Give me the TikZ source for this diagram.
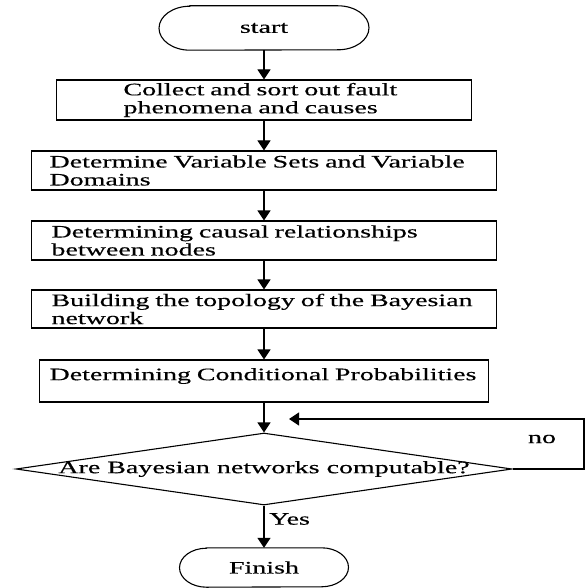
\documentclass[tikz,border=0pt]{standalone}
\usepackage{fontspec}
\setmainfont{Liberation Serif}[FakeStretch=1.6,FakeBold=0.4]
\usetikzlibrary{arrows.meta,shapes.geometric}
\newcommand\drawstadium[4]{%
  \draw[line width=1.1pt] ([xshift=-#2]#1.north) -- ([xshift=#2]#1.north)
    arc[start angle=90,end angle=-90,x radius=#3,y radius=#4]
    -- ([xshift=-#2]#1.south)
    arc[start angle=270,end angle=90,x radius=#3,y radius=#4] -- cycle;}
\newcommand\ind[1]{\hspace*{#1}}
\begin{document}
\begin{tikzpicture}[x=1pt,y=1pt,
  txt/.style={font=\fontsize{17.5}{18}\selectfont},
  box/.style={txt,draw,line width=1.1pt,rectangle,inner xsep=0pt,inner ysep=1pt,align=left},
  terminal/.style={txt,inner sep=0pt},
  arr/.style={line width=1.1pt,-{Triangle[length=10pt,width=13pt]}},
  lbl/.style={txt,inner sep=0pt}]
\useasboundingbox (0,0) rectangle (585,-588);

\node[terminal,minimum width=210pt,minimum height=44pt] (start) at (264,-28) {start};
\drawstadium{start}{74pt}{31pt}{22pt}

\node[box,text width=415pt,minimum height=40pt] (b1) at (264,-100)
  {\ind{67pt}Collect and sort out fault\\\ind{67pt}phenomena and causes};
\node[box,text width=465pt,minimum height=39pt] (b2) at (264,-170.5)
  {\ind{18pt}Determine Variable Sets and Variable\\\ind{18pt}Domains};
\node[box,text width=465pt,minimum height=39pt] (b3) at (264,-240.5)
  {\ind{20pt}Determining causal relationships\\\ind{20pt}between nodes};
\node[box,text width=465pt,minimum height=38pt] (b4) at (264,-309)
  {\ind{20pt}Building the topology of the Bayesian\\\ind{20pt}network};
\node[box,text width=449pt,minimum height=42pt] (b5) at (264,-381)
  {\ind{10pt}\raisebox{5pt}[\height][\depth]{Determining Conditional Probabilities}};

\node[txt,diamond,draw,line width=1.1pt,inner sep=0pt,aspect=7,
  minimum width=496pt,minimum height=72pt] (dec) at (264,-469)
  {\makebox[0pt]{Are Bayesian networks computable?}};

\node[terminal,minimum width=169pt,minimum height=39pt] (fin) at (264,-567.5) {Finish};
\drawstadium{fin}{57.5pt}{27pt}{19.5pt}

\coordinate (rc) at (584,-419);
\coordinate (fb) at (289,-419);

\draw[arr] (start.south) -- (b1.north);
\draw[arr] (b1.south) -- (b2.north);
\draw[arr] (b2.south) -- (b3.north);
\draw[arr] (b3.south) -- (b4.north);
\draw[arr] (b4.south) -- (b5.north);
\draw[arr] (b5.south) -- (dec.north);
\draw[arr] (dec.south) -- (fin.north);
\draw[arr] (dec.east) -| (rc) -- (fb);

\node[lbl] (no) at (542,-439) {no};
\node[lbl,anchor=west] (yes) at (269,-519) {Yes};
\end{tikzpicture}
\end{document}
